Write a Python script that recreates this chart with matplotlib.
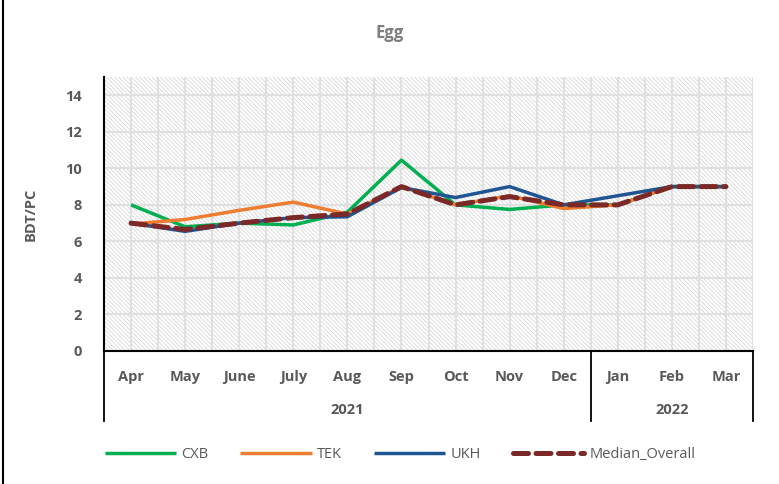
import matplotlib
matplotlib.use("Agg")
import matplotlib.pyplot as plt
from matplotlib.patches import Rectangle
from matplotlib.lines import Line2D
import matplotlib.transforms as mtrans

months = ["Apr", "May", "June", "July", "Aug", "Sep", "Oct", "Nov", "Dec", "Jan", "Feb", "Mar"]
years = ["2021", "2022"]
year_spans = [(0, 8), (9, 11)]

cxb = [8.0, 6.8, 7.0, 6.9, 7.6, 10.45, 8.0, 7.75, 8.0, 8.0, 9.0, 9.0]
tek = [6.95, 7.2, 7.7, 8.15, 7.5, 9.0, 8.0, 8.5, 7.8, 8.0, 9.0, 9.0]
ukh = [7.0, 6.55, 7.0, 7.3, 7.35, 8.95, 8.4, 9.0, 8.0, 8.5, 9.0, 9.0]
median = [7.0, 6.65, 7.0, 7.3, 7.5, 9.0, 8.0, 8.45, 8.0, 8.0, 9.0, 9.0]

plt.rcParams['font.family'] = ['Open Sans', 'DejaVu Sans']
plt.rcParams['hatch.linewidth'] = 0.6
gray = '#595959'

fig = plt.figure(figsize=(7.79, 4.84), dpi=100)
ax = fig.add_axes([104/779, 1-351/484, (753-104)/779, (351-77)/484])
ax.set_facecolor('white')
ax.add_patch(Rectangle((0, 0), 1, 1, transform=ax.transAxes, facecolor='white',
                       edgecolor='#d8d8d8', hatch='\\' * 8, linewidth=0, zorder=0))

x = list(range(len(months)))
ax.plot(x, cxb, color='#00B050', lw=2.5, zorder=3, solid_capstyle='butt', label='CXB')
ax.plot(x, tek, color='#ED7D31', lw=2.5, zorder=4, solid_capstyle='butt', label='TEK')
ax.plot(x, ukh, color='#1F5592', lw=2.5, zorder=5, solid_capstyle='butt', label='UKH')
ax.plot(x, median, color='#7B2828', lw=3.6, zorder=6, linestyle=(0, (3.0, 1.5)),
        dash_capstyle='round', label='Median_Overall')

ax.set_xticks(x)
ax.set_xticklabels(months)
ax.set_yticks(range(0, 15, 2))
ax.set_xlim(-0.5, 11.5)
ax.set_ylim(0, 15)
ax.grid(False)
for v in range(0, 15, 2):
    ax.axhline(v, color='#e0e0e0', lw=1.5, zorder=1)
for i in range(0, 25):
    ax.axvline(i / 2 - 0.5, color='#e0e0e0', lw=1.5, zorder=1)

ax.tick_params(axis='both', which='both', length=0)
ax.tick_params(axis='x', pad=14, labelsize=10.5, labelcolor=gray)
ax.tick_params(axis='y', pad=16, labelsize=10.5, labelcolor=gray)
for lab in ax.get_xticklabels() + ax.get_yticklabels():
    lab.set_fontweight('bold')

for s in ['top', 'right']:
    ax.spines[s].set_visible(False)
ax.spines['left'].set_color('black')
ax.spines['left'].set_linewidth(1.5)
ax.spines['bottom'].set_color('black')
ax.spines['bottom'].set_linewidth(1.5)
ax.spines['left'].set_zorder(7)
ax.spines['bottom'].set_zorder(7)

trans = mtrans.blended_transform_factory(ax.transData, ax.transAxes)
ybot = -(421 - 351) / 274
for xv in [-0.5, 8.5, 11.5]:
    ax.add_line(Line2D([xv, xv], [0, ybot], transform=trans, color='black', lw=1.3, clip_on=False))
ymid = -(410 - 351) / 274
for yr, (a, b) in zip(years, year_spans):
    ax.text((a + b) / 2, ymid, yr, transform=trans, ha='center', va='center',
            fontsize=10.5, fontweight='bold', color=gray)

ax.set_ylabel('BDT/PC', fontsize=10.5, fontweight='bold', color=gray)
ax.yaxis.set_label_coords(-(104 - 38) / 649, 0.5)

fig.text(390 / 779, 1 - 33 / 484, 'Egg', ha='center', va='center', fontsize=12,
         fontweight='bold', color='#7f7f7f')

fig.legend(loc='center', bbox_to_anchor=(400 / 779, 1 - 455 / 484), ncol=4, frameon=False,
           fontsize=10.5, labelcolor=gray, handlelength=4.9, columnspacing=2.2,
           handletextpad=0.35)

fig.add_artist(Line2D([3 / 779, 3 / 779], [0, 1], transform=fig.transFigure, color='black', lw=1.5))

fig.savefig('out.png', dpi=100)
